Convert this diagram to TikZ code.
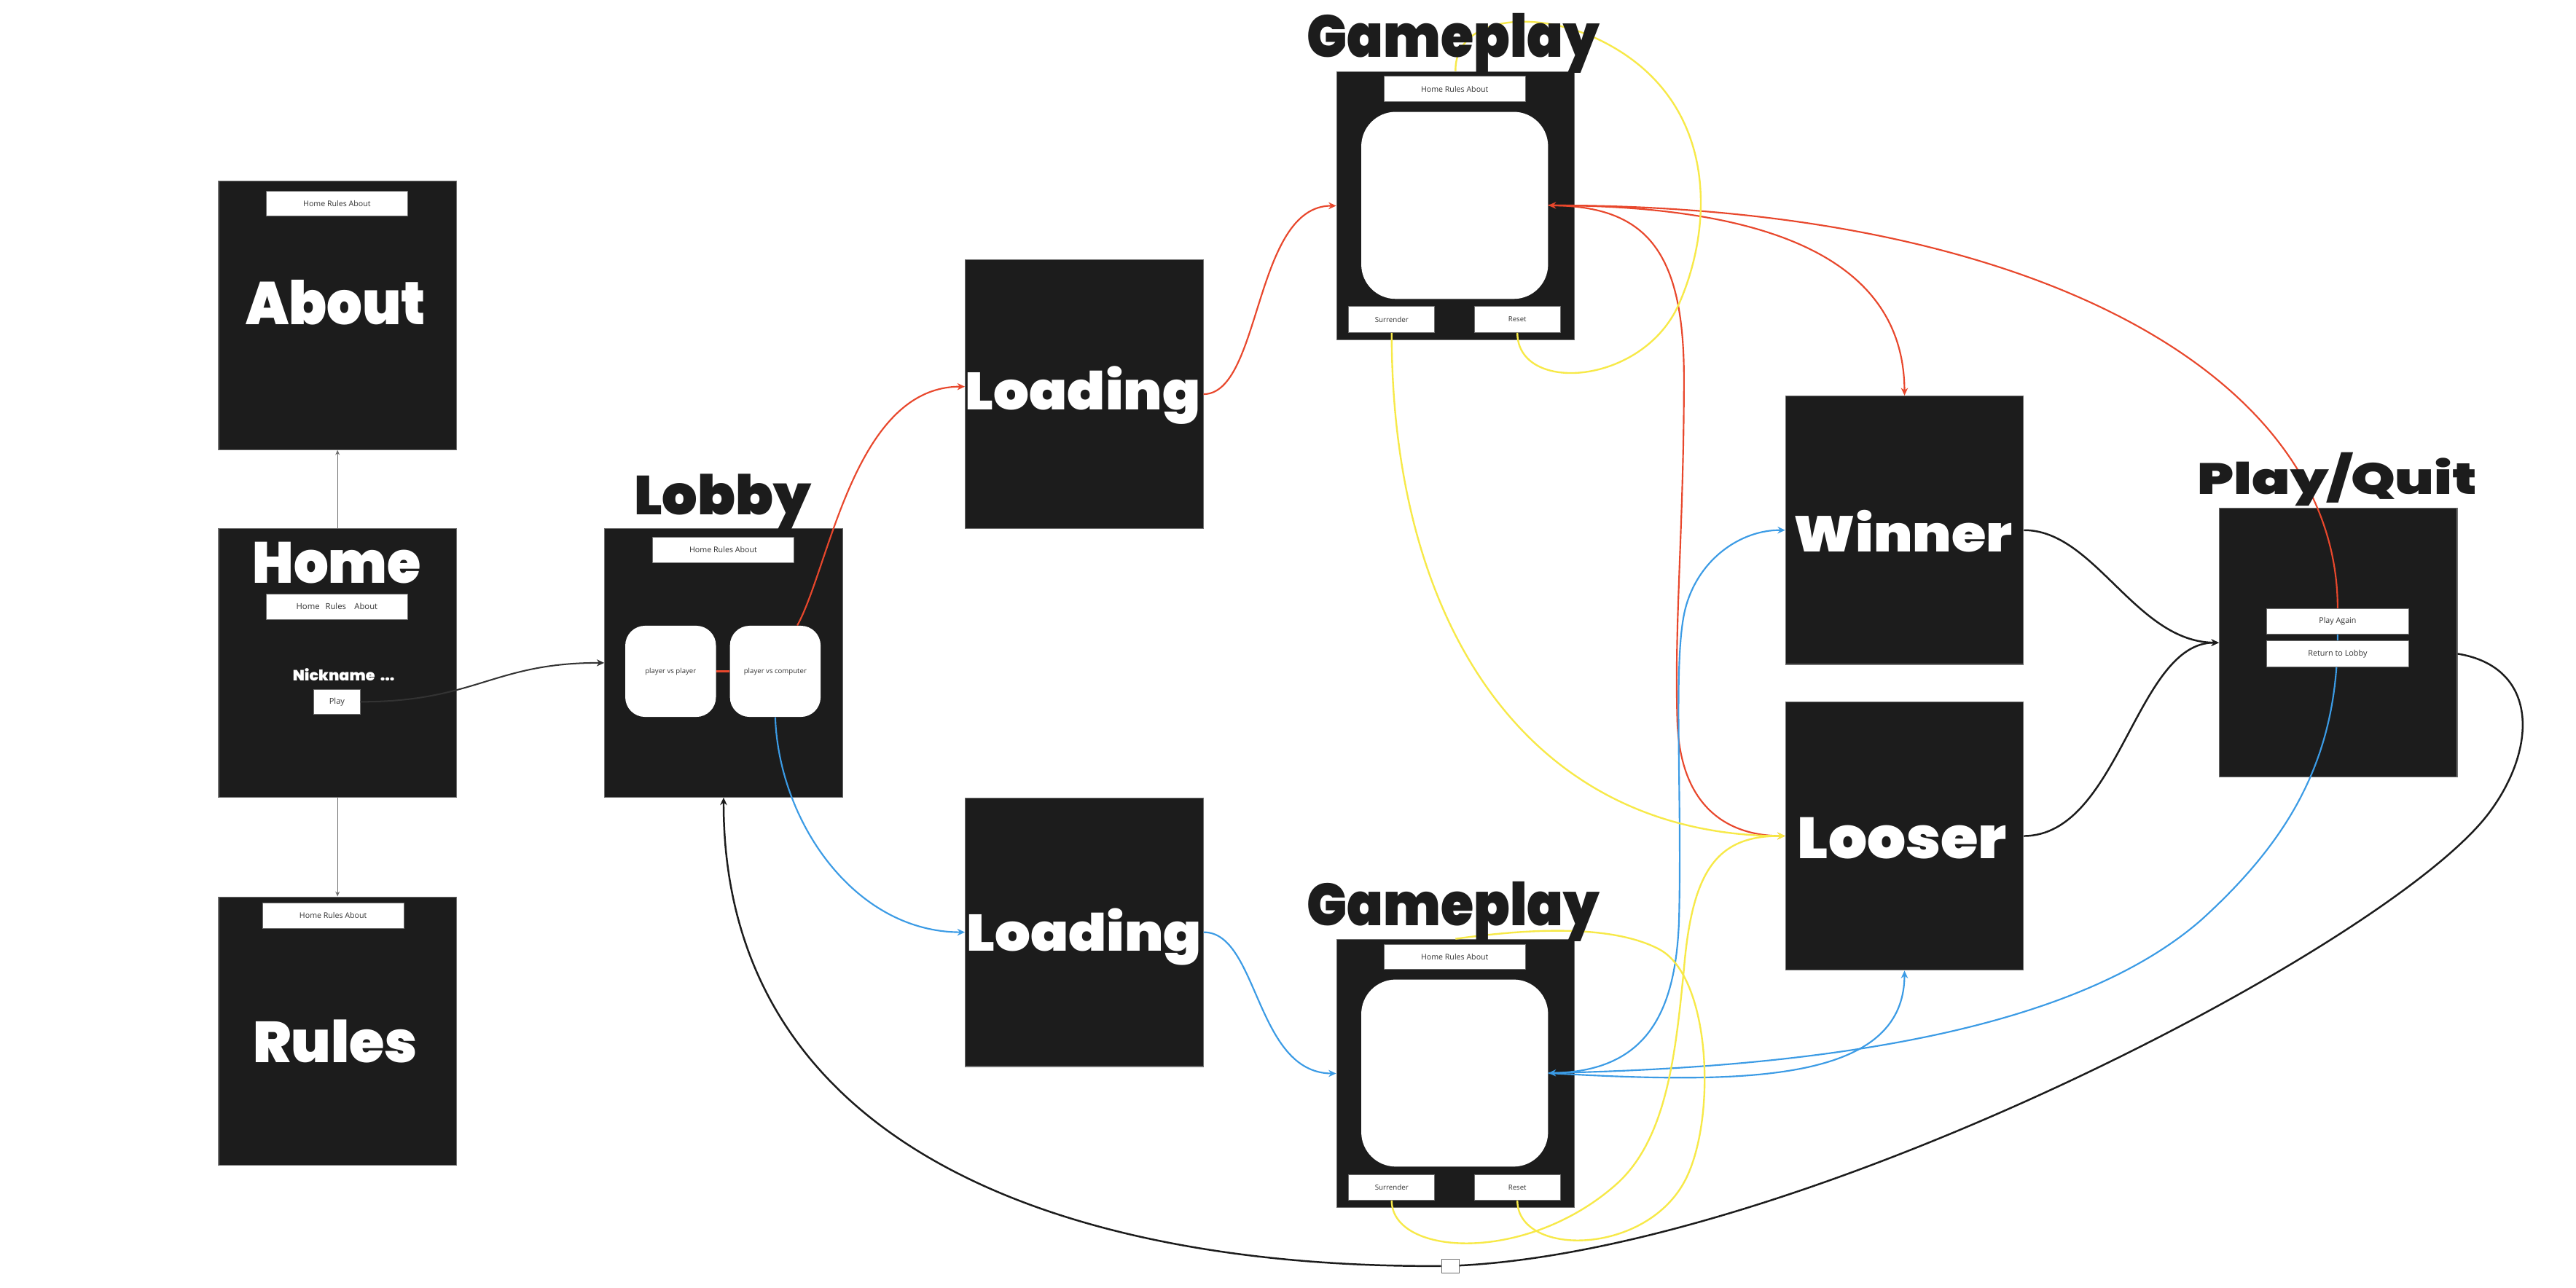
\documentclass[tikz,border=0pt]{standalone}
\usepackage{fontspec}
\usepackage{graphicx}
\usetikzlibrary{arrows.meta}
\setmainfont{Open Sans}
\IfFontExistsTF{Poppins Black}{\newfontfamily\ttlfont{Poppins Black}}{%
  \IfFontExistsTF{Poppins ExtraBold}{\newfontfamily\ttlfont{Poppins ExtraBold}}{%
    \newfontfamily\ttlfont{DejaVu Sans Bold}}}
\newcommand\ttlfit[3]{\resizebox{#1pt}{#2pt}{\ttlfont #3}}
\newcommand\smfit[2]{\resizebox{#1pt}{!}{#2}}
\definecolor{boxdark}{HTML}{1C1C1C}
\definecolor{bordergrey}{HTML}{6E6E6E}
\definecolor{txtgrey}{HTML}{333333}
\definecolor{myred}{HTML}{E8472C}
\definecolor{myblue}{HTML}{3B9BE5}
\definecolor{myyellow}{HTML}{F7E948}
\pgfdeclarelayer{bg}
\pgfdeclarelayer{fg}
\pgfsetlayers{bg,main,fg}
\begin{document}
\begin{tikzpicture}[x=1pt,y=-1pt,
  boxst/.style={draw=bordergrey, line width=0.5pt, fill=boxdark, inner sep=0, anchor=north west, minimum width=144.8pt, minimum height=163.5pt},
  navst/.style={draw=bordergrey, line width=0.4pt, fill=white, inner sep=0, minimum width=86.2pt, minimum height=15.4pt, text=txtgrey},
  btnst/.style={draw=bordergrey, line width=0.4pt, fill=white, inner sep=0, minimum width=52.2pt, minimum height=15.7pt, text=txtgrey},
  scrst/.style={fill=white, rounded corners=21pt, inner sep=0, minimum width=113.7pt, minimum height=113.9pt},
  modest/.style={fill=white, rounded corners=12pt, inner sep=0, minimum width=55.2pt, minimum height=55.5pt, text=txtgrey},
  ttl/.style={anchor=base west, inner sep=0},
  greyl/.style={draw=bordergrey, line width=0.6pt},
  darkl/.style={draw=txtgrey, line width=0.9pt},
  blkl/.style={draw=boxdark, line width=1.1pt},
  redl/.style={draw=myred, line width=0.95pt},
  bluel/.style={draw=myblue, line width=0.95pt},
  yell/.style={draw=myyellow, line width=1.05pt},
  arr/.style={-{Stealth[length=4.6pt,width=4.2pt]}},
  sarr/.style={-{Stealth[length=3pt,width=2.6pt]}}]
\useasboundingbox (0,0) rectangle (1568,784);

\begin{pgfonlayer}{bg}
\fill[white] (0,0) rectangle (1568,784);
% screens
\node[boxst] (about) at (132.8,110) {};
\node[boxst] (home) at (132.8,321.6) {};
\node[boxst] (rules) at (132.8,545.8) {};
\node[boxst] (lobby) at (367.8,321.6) {};
\node[boxst] (loadA) at (587.3,158) {};
\node[boxst] (loadB) at (587.3,485.6) {};
\node[boxst] (gameA) at (813.3,43.3) {};
\node[boxst] (gameB) at (813.3,571.6) {};
\node[boxst] (win) at (1086.6,240.8) {};
\node[boxst] (lose) at (1086.6,427) {};
\node[boxst] (pq) at (1350.6,309.3) {};
% nav bars
\node[navst] (aboutNav) at (205.1,124) {\smfit{41}{Home Rules About}};
\node[navst] (homeNav) at (205.1,369.35) {\smfit{49.5}{Home\hspace{0.7em}Rules\hspace{1em}About}};
\node[navst] (rulesNav) at (202.8,557.45) {\smfit{41}{Home Rules About}};
\node[navst] (lobbyNav) at (440.25,334.75) {\smfit{41.2}{Home Rules About}};
\node[navst] (gameANav) at (885.45,54.25) {\smfit{41}{Home Rules About}};
\node[navst] (gameBNav) at (885.45,582.55) {\smfit{41}{Home Rules About}};
% game screens and buttons
\node[scrst] (scrA) at (885.45,125.05) {};
\node[scrst] (scrB) at (885.45,653.35) {};
\node[btnst] (surA) at (847.1,194.55) {\smfit{20.4}{Surrender}};
\node[btnst] (resA) at (923.6,194.55) {\smfit{10.9}{Reset}};
\node[btnst] (surB) at (847.1,722.85) {\smfit{20.4}{Surrender}};
\node[btnst] (resB) at (923.6,722.85) {\smfit{10.9}{Reset}};
% lobby modes
\node[modest] (pvp) at (408.2,408.75) {\smfit{31}{player vs player}};
\node[modest] (pvc) at (471.9,408.75) {\smfit{38.2}{player vs computer}};
% home play
\node[btnst, minimum width=28pt, minimum height=15.4pt] (play) at (205.1,427.3) {\smfit{9.4}{Play}};
% white titles inside screens
\node[ttl, text=white] (tAbout) at (149.6,197.5) {\ttlfit{109.4}{27.1}{About}};
\node[ttl, text=white] (tHome) at (153.5,355) {\ttlfit{102.5}{25}{Home}};
\node[ttl, text=white] (tRules) at (153.8,647) {\ttlfit{100.2}{26}{Rules}};
\node[ttl, text=white] (tNick) at (178,414.3) {\ttlfit{62}{7.5}{Nickname\hspace{0.35em}...}};
\node[ttl, text=white] (tLoadA) at (587.5,249.5) {\ttlfit{143}{26.5}{Loading}};
\node[ttl, text=white] (tLoadB) at (588.2,579.1) {\ttlfit{143}{26}{Loading}};
\node[ttl, text=white] (tWin) at (1091.8,336.2) {\ttlfit{132.8}{25.4}{Winner}};
\node[ttl, text=white] (tLose) at (1094,522.8) {\ttlfit{127.3}{25}{Looser}};
\end{pgfonlayer}

\begin{pgfonlayer}{fg}
\node[btnst, minimum width=86.3pt, minimum height=15.3pt] (again) at (1422.9,378.35) {\smfit{22.7}{Play Again}};
\node[btnst, minimum width=86.3pt, minimum height=15.7pt] (back) at (1422.9,398.05) {\smfit{36}{Return to Lobby}};
\node[draw=bordergrey, fill=white, line width=0.4pt, minimum width=10.6pt, minimum height=8.3pt, inner sep=0] (sq) at (882.7,770.8) {};
\node[ttl, text=boxdark] (tLobby) at (385.7,313.4) {\ttlfit{107.7}{24.7}{Lobby}};
\node[ttl, text=boxdark] (tGameA) at (795.5,34.8) {\ttlfit{177.9}{26.7}{Gameplay}};
\node[ttl, text=boxdark] (tGameB) at (795.5,563.4) {\ttlfit{177.9}{26.7}{Gameplay}};
\node[ttl, text=boxdark] (tPQ) at (1337.4,300.9) {\ttlfit{170.1}{25.4}{Play/Quit}};
\end{pgfonlayer}

% ---- connectors (lines leaving a screen first, arrows into it last) ----
\draw[greyl, sarr] (home.north) -- (about.south);
\draw[greyl, sarr] (home.south) -- (rules.north);
\draw[darkl, arr] (play.east) .. controls (290,427.3) and (300,403.4) .. (lobby.west);
\draw[redl] (pvp.east) -- (pvc.west);
% red path
\draw[redl, arr] ([xshift=13.4pt]pvc.north) .. controls (505,345) and (520,235.3) .. ([yshift=4.6pt]loadA.west);
\draw[redl, arr] (loadA.east) .. controls (768,239.8) and (763,125.05) .. (gameA.west);
\draw[redl, arr] (scrA.east) .. controls (1060,125) and (1159,150) .. (win.north);
\draw[redl, arr] (scrA.east) .. controls (1000,125) and (1025,150) .. (1025,230)
  .. controls (1025,320) and (1019,380) .. (1021,440)
  .. controls (1023,490) and (1050,508.75) .. (lose.west);
\draw[redl, arr] (again.north) .. controls (1423,230) and (1240,125) .. (scrA.east);
% blue path
\draw[bluel, arr] (pvc.south) .. controls (474,500) and (520,567.4) .. (loadB.west);
\draw[bluel, arr] (loadB.east) .. controls (766,567.35) and (764,653.35) .. (gameB.west);
\draw[bluel, arr] (scrB.east) .. controls (1000,653.35) and (1020,620) .. (1022,560)
  .. controls (1024,480) and (1018,400) .. (1026,370)
  .. controls (1034,340) and (1060,322.55) .. (win.west);
\draw[bluel, arr] (scrB.east) .. controls (1060,660) and (1159,660) .. (lose.south);
\draw[bluel, arr] (again.south) .. controls (1423,460) and (1395,510) .. (1340,560)
  .. controls (1260,630) and (1100,650) .. (scrB.east);
% yellow
\draw[yell, arr] (surA.south) .. controls (847,380) and (930,508.75) .. (lose.west);
\draw[yell] (resA.south) .. controls (923.6,240) and (1000,235) .. (1022,185)
  .. controls (1044,135) and (1045,60) .. (975,25)
  .. controls (935,5) and (885.45,10) .. (gameA.north);
\draw[yell, arr] (surB.south) .. controls (847.1,765) and (930,770) .. (985,720)
  .. controls (1015,692) and (1020,640) .. (1025,590)
  .. controls (1030,530) and (1045,508.75) .. (lose.west);
\draw[yell] (resB.south) .. controls (923.6,765) and (1000,765) .. (1025,720)
  .. controls (1045,684) and (1042,595) .. (1010,578)
  .. controls (978,561) and (920,567) .. (gameB.north);
% black
\draw[blkl, arr] (win.east) .. controls (1275,322.55) and (1300,391.05) .. (pq.west);
\draw[blkl, arr] (lose.east) .. controls (1290,508.75) and (1300,391.05) .. (pq.west);
\draw[blkl] (pq.east |- back.center) .. controls (1545,406) and (1545,455) .. (1515,495)
  .. controls (1455,575) and (1100,760) .. (sq);
\draw[blkl, arr] (sq) .. controls (650,772) and (440.2,700) .. (lobby.south);
\end{tikzpicture}
\end{document}
